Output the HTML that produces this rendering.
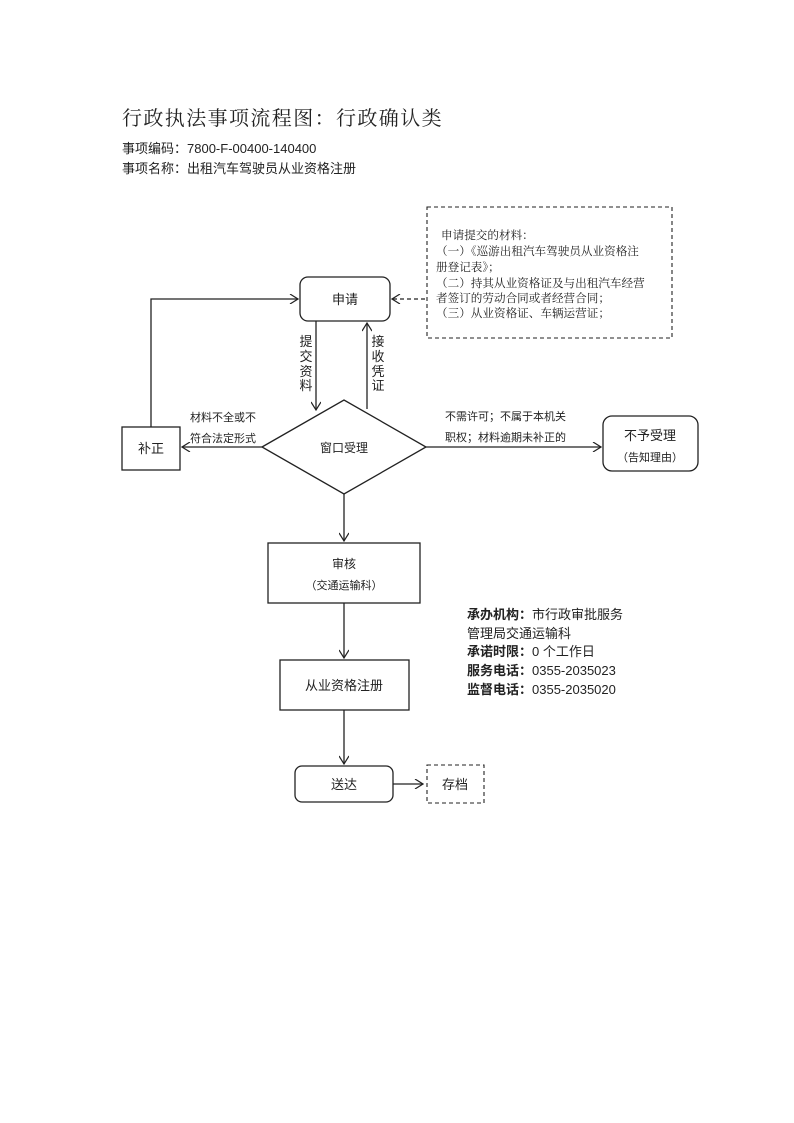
<!DOCTYPE html>
<html><head><meta charset="utf-8"><style>
html,body{margin:0;padding:0;background:#fff}
svg{display:block}
text{font-family:"Liberation Sans","Noto Sans CJK SC",sans-serif;fill:#222}
.s{font-family:"Liberation Serif","Noto Serif CJK SC",serif}
</style></head><body>
<svg width="794" height="1123" viewBox="0 0 794 1123" xmlns="http://www.w3.org/2000/svg">
<defs><marker id="a" markerWidth="10" markerHeight="10" refX="9" refY="5" orient="auto" markerUnits="userSpaceOnUse"><path d="M1,0 L9,5 L1,10" fill="none" stroke="#222" stroke-width="1.2"/></marker></defs>
<g stroke="#222" stroke-width="1.3" fill="none">
<text class="s" x="122" y="125" font-size="20" stroke="none" letter-spacing="1.4">行政执法事项流程图：行政确认类</text>
<rect x="300" y="277" width="90" height="44" rx="8"/>
<rect x="427" y="207" width="245" height="131" stroke-dasharray="4,3" stroke-width="1.1"/>
<line x1="425" y1="299" x2="392" y2="299" stroke-dasharray="4,3" marker-end="url(#a)"/>
<polyline points="151,427 151,299 298,299" marker-end="url(#a)"/>
<rect x="122" y="427" width="58" height="43"/>
<polygon points="262,447 344,400 426,447 344,494"/>
<line x1="316" y1="321" x2="316" y2="410" marker-end="url(#a)"/>
<line x1="367" y1="409" x2="367" y2="323" marker-end="url(#a)"/>
<line x1="262" y1="447" x2="182" y2="447" marker-end="url(#a)"/>
<line x1="426" y1="447" x2="601" y2="447" marker-end="url(#a)"/>
<rect x="603" y="416" width="95" height="55" rx="9"/>
<line x1="344" y1="494" x2="344" y2="541" marker-end="url(#a)"/>
<rect x="268" y="543" width="152" height="60"/>
<line x1="344" y1="603" x2="344" y2="658" marker-end="url(#a)"/>
<rect x="280" y="660" width="129" height="50"/>
<line x1="344" y1="710" x2="344" y2="764" marker-end="url(#a)"/>
<rect x="295" y="766" width="98" height="36" rx="7"/>
<line x1="393" y1="784" x2="423" y2="784" marker-end="url(#a)"/>
<rect x="427" y="765" width="57" height="38" stroke-dasharray="4,3" stroke-width="1.1"/>
</g>
<text x="122" y="153" font-size="13">事项编码：7800-F-00400-140400</text>
<text x="122" y="173" font-size="13">事项名称：出租汽车驾驶员从业资格注册</text>
<g font-size="11.6">
<text class="s" x="441" y="239">申请提交的材料：</text>
<text class="s" x="436" y="255">（一）《巡游出租汽车驾驶员从业资格注</text>
<text class="s" x="436" y="271">册登记表》；</text>
<text class="s" x="436" y="287">（二）持其从业资格证及与出租汽车经营</text>
<text class="s" x="436" y="302">者签订的劳动合同或者经营合同；</text>
<text class="s" x="436" y="317">（三）从业资格证、车辆运营证；</text>
</g>
<text x="345" y="304" font-size="13" text-anchor="middle">申请</text>
<g font-size="13" text-anchor="middle">
<text x="306" y="346">提</text><text x="306" y="361">交</text><text x="306" y="376">资</text><text x="306" y="390">料</text>
<text x="378" y="346">接</text><text x="378" y="361">收</text><text x="378" y="376">凭</text><text x="378" y="390">证</text>
</g>
<text x="151" y="453" font-size="13" text-anchor="middle">补正</text>
<text x="190" y="421" font-size="11">材料不全或不</text>
<text x="190" y="442" font-size="11">符合法定形式</text>
<text x="344" y="452" font-size="12" text-anchor="middle">窗口受理</text>
<text x="445" y="420" font-size="11">不需许可；不属于本机关</text>
<text x="445" y="441" font-size="11">职权；材料逾期未补正的</text>
<text x="650" y="440" font-size="13" text-anchor="middle">不予受理</text>
<text x="650" y="461" font-size="11" text-anchor="middle">（告知理由）</text>
<text x="344" y="568" font-size="12" text-anchor="middle">审核</text>
<text x="344" y="589" font-size="11" text-anchor="middle">（交通运输科）</text>
<text x="344" y="690" font-size="13" text-anchor="middle">从业资格注册</text>
<text x="344" y="789" font-size="13" text-anchor="middle">送达</text>
<text x="455" y="789" font-size="13" text-anchor="middle">存档</text>
<g font-size="13">
<text x="467" y="619"><tspan font-weight="bold">承办机构：</tspan>市行政审批服务</text>
<text x="467" y="638">管理局交通运输科</text>
<text x="467" y="656"><tspan font-weight="bold">承诺时限：</tspan>0 个工作日</text>
<text x="467" y="675"><tspan font-weight="bold">服务电话：</tspan>0355-2035023</text>
<text x="467" y="694"><tspan font-weight="bold">监督电话：</tspan>0355-2035020</text>
</g>
</svg>
</body></html>
